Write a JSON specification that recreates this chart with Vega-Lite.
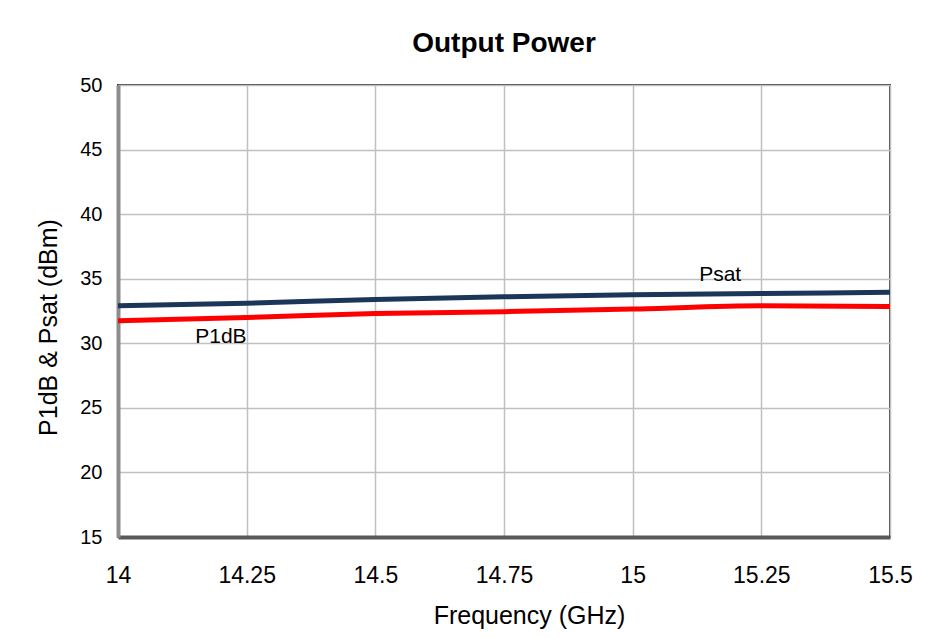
{
  "$schema": "https://vega.github.io/schema/vega-lite/v6.json",
  "autosize": {"type": "none"},
  "padding": {"left": 118, "top": 85, "right": 39, "bottom": 101},
  "width": 772,
  "height": 452,
  "background": "white",
  "title": {
    "text": "Output Power",
    "font": "Liberation Sans",
    "fontSize": 28,
    "fontWeight": "bold",
    "color": "#000000",
    "anchor": "middle",
    "offset": 17
  },
  "config": {
    "view": {"stroke": "#404040", "strokeWidth": 2},
    "axis": {
      "labelFont": "Liberation Sans",
      "titleFont": "Liberation Sans",
      "labelColor": "#000000",
      "titleColor": "#000000",
      "titleFontWeight": "normal",
      "gridColor": "#c0c0c0",
      "gridWidth": 1.5,
      "ticks": false
    }
  },
  "datasets": {
    "series": [
      {"freq": 14.0, "power": 32.9, "series": "Psat"},
      {"freq": 14.25, "power": 33.1, "series": "Psat"},
      {"freq": 14.5, "power": 33.4, "series": "Psat"},
      {"freq": 14.75, "power": 33.6, "series": "Psat"},
      {"freq": 15.0, "power": 33.75, "series": "Psat"},
      {"freq": 15.25, "power": 33.85, "series": "Psat"},
      {"freq": 15.5, "power": 33.95, "series": "Psat"},
      {"freq": 14.0, "power": 31.75, "series": "P1dB"},
      {"freq": 14.25, "power": 32.0, "series": "P1dB"},
      {"freq": 14.5, "power": 32.3, "series": "P1dB"},
      {"freq": 14.75, "power": 32.45, "series": "P1dB"},
      {"freq": 15.0, "power": 32.65, "series": "P1dB"},
      {"freq": 15.25, "power": 32.9, "series": "P1dB"},
      {"freq": 15.5, "power": 32.85, "series": "P1dB"}
    ],
    "labels": [
      {"freq": 15.17, "power": 35.3, "label": "Psat"},
      {"freq": 14.2, "power": 30.5, "label": "P1dB"}
    ]
  },
  "layer": [
    {
      "data": {"name": "series"},
      "mark": {"type": "line", "strokeWidth": 5, "interpolate": "monotone"},
      "encoding": {
        "x": {
          "field": "freq",
          "type": "quantitative",
          "scale": {"domain": [14, 15.5], "nice": false, "zero": false},
          "axis": {
            "values": [14, 14.25, 14.5, 14.75, 15, 15.25, 15.5],
            "labelExpr": "'' + datum.value",
            "labelFontSize": 23,
            "labelPadding": 27,
            "labelFlush": false,
            "domainColor": "#595959",
            "domainWidth": 4,
            "title": "Frequency (GHz)",
            "titleFontSize": 25,
            "titleX": 411,
            "titleY": 66
          }
        },
        "y": {
          "field": "power",
          "type": "quantitative",
          "scale": {"domain": [15, 50], "nice": false, "zero": false},
          "axis": {
            "values": [15, 20, 25, 30, 35, 40, 45, 50],
            "labelFontSize": 20,
            "labelPadding": 16,
            "domainColor": "#8c8c8c",
            "domainWidth": 4,
            "title": "P1dB & Psat (dBm)",
            "titleFontSize": 25,
            "titlePadding": 18,
            "titleY": 242
          }
        },
        "color": {
          "field": "series",
          "type": "nominal",
          "scale": {"domain": ["Psat", "P1dB"], "range": ["#1b3659", "#ff0000"]},
          "legend": null
        }
      }
    },
    {
      "data": {"name": "labels"},
      "mark": {"type": "text", "font": "Liberation Sans", "fontSize": 21, "color": "#000000", "align": "center", "baseline": "middle"},
      "encoding": {
        "x": {"field": "freq", "type": "quantitative"},
        "y": {"field": "power", "type": "quantitative"},
        "text": {"field": "label"}
      }
    }
  ]
}
